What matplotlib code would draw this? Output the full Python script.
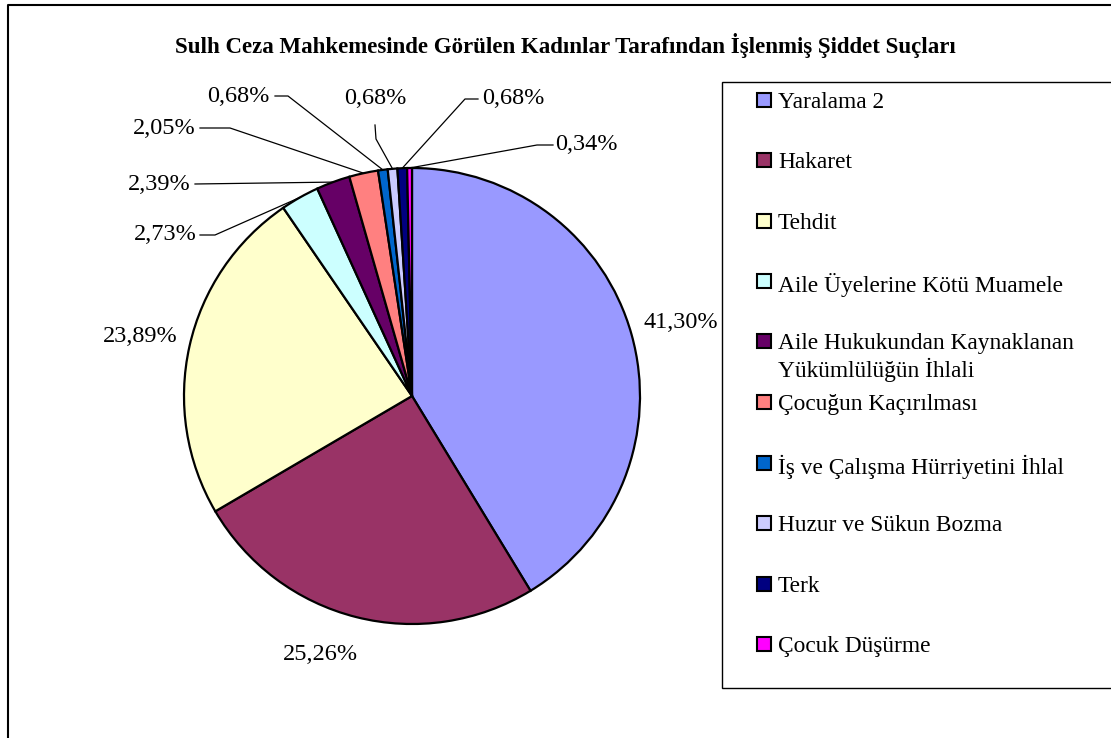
import matplotlib
matplotlib.use("Agg")
import matplotlib.pyplot as plt
from matplotlib.patches import Rectangle
import numpy as np

# ---- data ----
categories = ["Yaralama 2", "Hakaret", "Tehdit", "Aile Üyelerine Kötü Muamele",
              "Aile Hukukundan Kaynaklanan\nYükümlülüğün İhlali", "Çocuğun Kaçırılması",
              "İş ve Çalışma Hürriyetini İhlal", "Huzur ve Sükun Bozma", "Terk",
              "Çocuk Düşürme"]
values = [41.30, 25.26, 23.89, 2.73, 2.39, 2.05, 0.68, 0.68, 0.68, 0.34]
colors = ["#9999FF", "#993366", "#FFFFCC", "#CCFFFF", "#660066", "#FF8080",
          "#0066CC", "#CCCCFF", "#000080", "#FF00FF"]
title = "Sulh Ceza Mahkemesinde Görülen Kadınlar Tarafından İşlenmiş Şiddet Suçları"

W, H = 1111, 738
FONT = "Liberation Serif"
plt.rcParams['font.family'] = [FONT, 'DejaVu Serif']

fig = plt.figure(figsize=(W / 100, H / 100), dpi=100)
ax = fig.add_axes([0, 0, 1, 1])

def P(x, y):  # pixel (top-left origin) -> data
    return x, H - y

cx, cy = P(412, 396)
R = 228
wedges, _ = ax.pie(values, colors=colors, startangle=90, counterclock=False,
                   center=(cx, cy), radius=R, frame=True,
                   wedgeprops=dict(edgecolor='black', linewidth=1.6))
ax.set_xlim(0, W)
ax.set_ylim(0, H)
ax.set_aspect('equal')
ax.axis('off')

def fmt(v):
    return f"{v:.2f}".replace('.', ',') + '%'

# label layout: (text x, text y, ha, leader-line points (pixel) or None)
layout = [
    (681, 323, 'center', None),
    (320, 655, 'center', None),
    (140, 337, 'center', None),
    (197, 235, 'right', [(200, 235), (215, 235)]),
    (191, 185, 'right', [(195, 184)]),
    (196, 128, 'right', [(200, 128), (230, 128)]),
    (270, 97, 'right', [(275, 96), (288, 96)]),
    (375, 98, 'center', [(375, 125), (376, 139)]),
    (482, 99, 'left', [(478, 99), (465, 99)]),
    (555, 145, 'left', [(553, 145), (537, 145)]),
]

for w, v, (tx, ty, ha, pts) in zip(wedges, values, layout):
    X, Y = P(tx, ty)
    ax.text(X, Y, fmt(v), ha=ha, va='center', fontsize=17.5, color='black')
    if pts is not None:
        mid = np.deg2rad((w.theta1 + w.theta2) / 2)
        ax_, ay_ = cx + R * np.cos(mid), cy + R * np.sin(mid)
        xs = [P(*p)[0] for p in pts] + [ax_]
        ys = [P(*p)[1] for p in pts] + [ay_]
        ax.plot(xs, ys, color='black', linewidth=0.9)

# title
ax.text(*P(565, 45), title, ha='center', va='center', fontsize=16.5,
        fontweight='bold', color='black')

# outer chart frame (top and left visible)
ax.plot([8, 8, W], [0, P(8, 5)[1], P(W, 5)[1]],
        color='black', linewidth=1.5)

# legend box
lx0, ly0, lx1, ly1 = 722, 82, 1112, 688
ax.add_patch(Rectangle(P(lx0, ly1), lx1 - lx0, ly1 - ly0, fill=False,
                       edgecolor='black', linewidth=1.0))
entry_y = [100, 160, 221, 281, 341, 402, 463, 523, 584, 644]
for c, lab, yy in zip(colors, categories, entry_y):
    ax.add_patch(Rectangle(P(757, yy + 7), 14, 14, facecolor=c,
                           edgecolor='black', linewidth=1.5))
    ax.text(*P(778, yy - 8), lab, ha='left', va='top', fontsize=16.8,
            color='black', linespacing=1.2)

fig.savefig("out.png", dpi=100)
